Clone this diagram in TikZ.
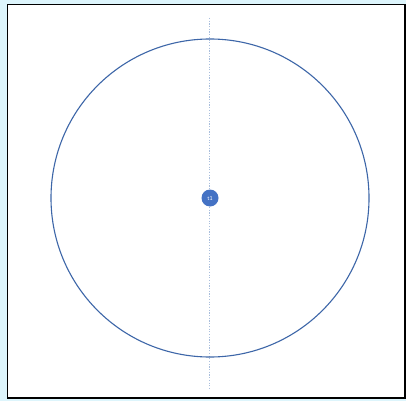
\documentclass[tikz,border=0pt]{standalone}
\usepackage{tikz}
\definecolor{bgcyan}{HTML}{DDF5FC}
\definecolor{circblue}{HTML}{3D66A8}
\definecolor{dotblue}{HTML}{A9BEDC}
\definecolor{nodeblue}{HTML}{4472C4}
\begin{document}
\begin{tikzpicture}[x=1pt,y=-1pt,
  frame/.style={draw=black,line width=1.2pt,fill=white},
  bigcirc/.style={draw=circblue,line width=1.1pt},
  axisline/.style={draw=dotblue,line width=0.6pt,dash pattern=on 1.2pt off 1.5pt},
  tnode/.style={circle,fill=nodeblue,minimum size=17pt,inner sep=0pt,text=white,font=\sffamily\fontsize{6}{7}\selectfont}]
\fill[bgcyan] (0,0) rectangle (406,401);
\useasboundingbox (0,0) rectangle (406,401);
\draw[frame] (7.5,4.5) rectangle (405,398);
\coordinate (top) at (209,18);
\coordinate (bot) at (209,388);
\draw[axisline] (top) -- (bot);
\draw[bigcirc] (210,198) circle (159);
\node[tnode] (t1) at (210,198) {t1};
\end{tikzpicture}
\end{document}
